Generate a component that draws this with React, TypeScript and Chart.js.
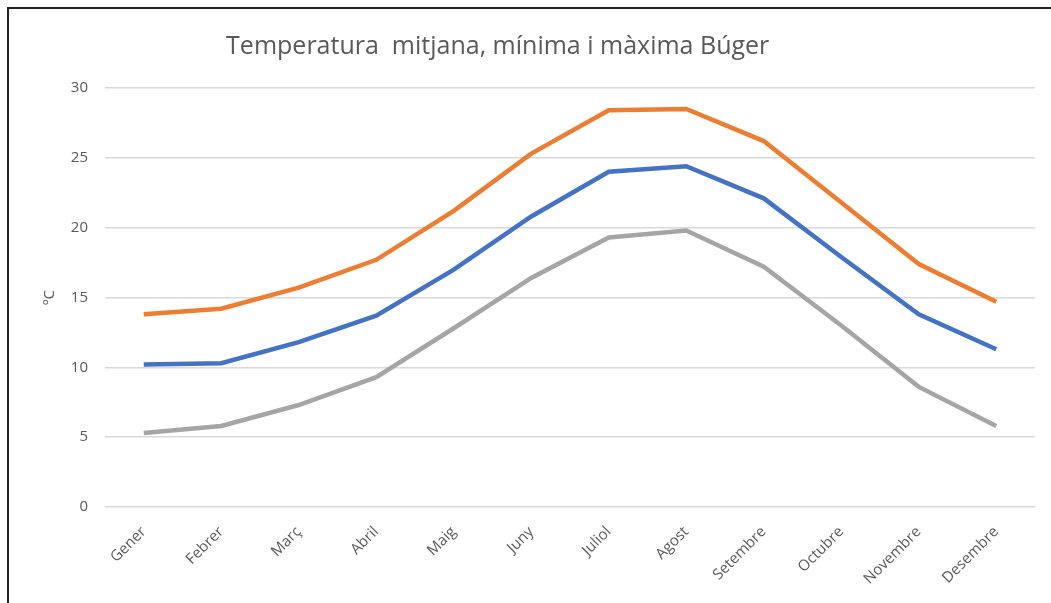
import React, { useEffect, useRef } from "react";
import { Chart, registerables } from "chart.js";

Chart.register(...registerables);

const months = ["Gener", "Febrer", "Març", "Abril", "Maig", "Juny", "Juliol", "Agost", "Setembre", "Octubre", "Novembre", "Desembre"];
const tempMax = [13.8, 14.2, 15.7, 17.7, 21.2, 25.3, 28.4, 28.5, 26.2, 21.8, 17.4, 14.7];
const tempMitjana = [10.2, 10.3, 11.8, 13.7, 17.0, 20.8, 24.0, 24.4, 22.1, 17.9, 13.8, 11.3];
const tempMin = [5.3, 5.8, 7.3, 9.3, 12.8, 16.4, 19.3, 19.8, 17.2, 13.0, 8.6, 5.8];
const chartTitle = "Temperatura  mitjana, mínima i màxima Búger";
const yAxisTitle = "ºC";

const FONT = "'Open Sans', 'Noto Sans', sans-serif";
const TEXT = "#595959";

const titlePlugin = {
  id: "customTitle",
  afterDraw(chart: any) {
    const ctx = chart.ctx;
    ctx.save();
    ctx.font = `25px ${FONT}`;
    ctx.fillStyle = TEXT;
    ctx.textAlign = "center";
    ctx.textBaseline = "middle";
    ctx.fillText(chartTitle, chart.width * 0.469, 38);
    ctx.restore();
  },
};

export default function App() {
  const ref = useRef<HTMLCanvasElement>(null);
  useEffect(() => {
    document.body.style.overflow = "hidden";
    const chart = new Chart(ref.current!, {
      type: "line",
      data: {
        labels: months,
        datasets: [
          { label: "Mitjana", data: tempMitjana, borderColor: "#4472C4", borderWidth: 4.5, pointRadius: 0, tension: 0, fill: false },
          { label: "Màxima", data: tempMax, borderColor: "#ED7D31", borderWidth: 4.5, pointRadius: 0, tension: 0, fill: false },
          { label: "Mínima", data: tempMin, borderColor: "#A5A5A5", borderWidth: 4.5, pointRadius: 0, tension: 0, fill: false },
        ],
      },
      options: {
        animation: false,
        responsive: false,
        maintainAspectRatio: false,
        layout: { padding: { top: 79, right: 16, left: 0, bottom: 0 } },
        plugins: {
          legend: { display: false },
          title: { display: false },
          tooltip: { enabled: false },
        },
        scales: {
          x: {
            offset: true,
            grid: { display: false, drawTicks: false },
            border: { display: false },
            ticks: {
              color: TEXT,
              font: { family: FONT, size: 15 },
              maxRotation: 45,
              minRotation: 45,
              padding: 16,
              autoSkip: false,
            },
            afterFit(scale: any) {
              scale.height = 96;
            },
          },
          y: {
            min: 0,
            max: 30,
            grid: { color: "#d9d9d9", lineWidth: 1.5, drawTicks: false },
            border: { display: false },
            ticks: {
              stepSize: 5,
              color: TEXT,
              font: { family: FONT, size: 15 },
              padding: 17,
            },
            title: {
              display: true,
              text: yAxisTitle,
              color: TEXT,
              font: { family: FONT, size: 15 },
              padding: { top: 32, bottom: 0 },
            },
            afterFit(scale: any) {
              scale.width = 96;
            },
          },
        },
      },
      plugins: [titlePlugin],
    });
    return () => chart.destroy();
  }, []);

  return (
    <div>
      <div
        style={{
          position: "fixed",
          left: 7,
          top: 7,
          width: 1200,
          height: 800,
          border: "2px solid #222",
          background: "#fff",
        }}
      />
      <canvas
        ref={ref}
        width={1042}
        height={594}
        style={{ position: "fixed", left: 9, top: 9, width: 1042, height: 594 }}
      />
    </div>
  );
}
